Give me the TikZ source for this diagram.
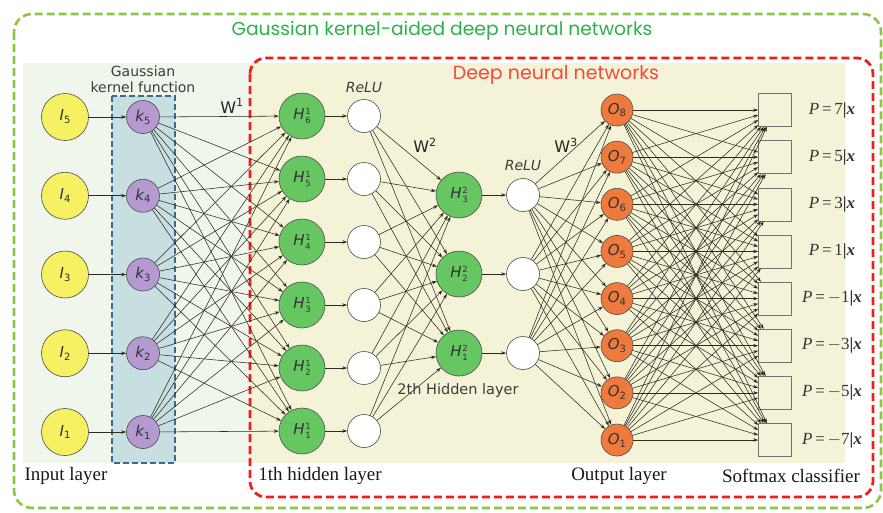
\documentclass[tikz,border=0pt]{standalone}
\usepackage{fontspec}
\setmainfont{Liberation Serif}
\setsansfont{DejaVu Sans}
\newfontfamily\headfont{Poppins}
\usetikzlibrary{arrows.meta}

\definecolor{inyellow}{HTML}{F6F063}
\definecolor{kerpurple}{HTML}{B59AD2}
\definecolor{hidgreen}{HTML}{66C662}
\definecolor{outorange}{HTML}{EF7A3D}
\definecolor{kerfill}{HTML}{C7DFE1}
\definecolor{kerline}{HTML}{3A6B8A}
\definecolor{panelgreen}{HTML}{F0F6EB}
\definecolor{panelbeige}{HTML}{F4F3D8}
\definecolor{framered}{HTML}{F21E1E}
\definecolor{framegreen}{HTML}{8DC63F}
\definecolor{headgreen}{HTML}{2DB24A}
\definecolor{headred}{HTML}{F4483A}
\definecolor{wire}{HTML}{2B2B1E}
\definecolor{labgray}{HTML}{3C3C3C}

% node label helpers: italic letter with subscript, or with stacked sup/sub
\newcommand{\nsub}[2]{{\itshape #1}\raisebox{-0.35ex}{\fontsize{10}{10}\selectfont #2}}
\newcommand{\nsupsub}[3]{{\itshape #1}\kern0.8pt\raisebox{-3.6pt}{\fontsize{8.5}{8.5}\selectfont\shortstack[l]{#2\\[-0.6pt]#3}}}
\newcommand{\plab}[1]{\textit{P}\,=\,#1\textbf{|}\textbf{\textit{x}}}

\begin{document}
\begin{tikzpicture}[x=1pt,y=-1pt,
  neuron/.style={circle,draw=black!70,line width=0.6pt,inner sep=0pt,
    font=\sffamily\fontsize{15}{15}\selectfont,text=black!80},
  inpnode/.style={neuron,fill=inyellow,minimum size=47pt},
  kernode/.style={neuron,fill=kerpurple,minimum size=33pt},
  hidnode/.style={neuron,fill=hidgreen,minimum size=46pt},
  relunode/.style={neuron,fill=white,minimum size=33pt},
  outnode/.style={neuron,fill=outorange,minimum size=32pt},
  smxbox/.style={rectangle,draw=black!55,line width=0.6pt,fill=panelbeige,minimum size=33pt,inner sep=0pt},
  conn/.style={draw=wire,line width=0.55pt,-{Stealth[length=5pt,width=3.4pt]}},
  layerlab/.style={font=\fontsize{19}{19}\selectfont,text=black!90},
  weightlab/.style={font=\sffamily\fontsize{16}{16}\selectfont,text=black!85},
  relulab/.style={font=\sffamily\itshape\fontsize{14}{14}\selectfont,text=labgray},
  plabel/.style={font=\fontsize{17}{17}\selectfont,text=black!80}
]
\useasboundingbox (0,0) rectangle (883,512);
\fill[white] (0,0) rectangle (883,512);

% panels
\fill[panelgreen] (23,63) rectangle (250,463);
\fill[panelbeige] (250,63) rectangle (845,463);

% frames
\draw[framegreen,line width=2.6pt,dash pattern=on 8pt off 4pt,rounded corners=18pt]
  (14,14) rectangle (881,508);
\draw[framered,line width=2.8pt,dash pattern=on 8pt off 4pt,rounded corners=16pt]
  (250,58) rectangle (873,497);
\draw[kerline,fill=kerfill,line width=1.4pt,dash pattern=on 6pt off 3pt]
  (112,96) rectangle (175,463);

% headings
\node (title) at (442,31) {\headfont\fontsize{18.7}{18.7}\selectfont\color{headgreen}Gaussian kernel-aided deep neural networks};
\node (dnn) at (556,75) {\headfont\fontsize{19}{19}\selectfont\color{headred}Deep neural networks};
\node[align=center,font=\sffamily\fontsize{14}{16}\selectfont,text=labgray] (gkf) at (143,79) {Gaussian\\kernel function};

% input and kernel layers
\foreach \i in {1,...,5} {
  \pgfmathsetmacro{\yy}{432-(\i-1)*78.75}
  \node[inpnode] (I\i) at (65,\yy) {\nsub{I}{\i}};
  \node[kernode] (k\i) at (143,\yy) {\nsub{k}{\i}};
}
% first hidden layer with ReLU units
\foreach \i in {1,...,6} {
  \pgfmathsetmacro{\yy}{431-(\i-1)*63}
  \node[hidnode] (h\i) at (302,\yy) {\nsupsub{H}{1}{\i}};
  \node[relunode] (r\i) at (364,\yy) {};
}
% second hidden layer with ReLU units
\foreach \i in {1,...,3} {
  \pgfmathsetmacro{\yy}{353-(\i-1)*79}
  \node[hidnode] (g\i) at (459,\yy) {\nsupsub{H}{2}{\i}};
  \node[relunode] (s\i) at (523,\yy) {};
}
% output layer, softmax boxes and class labels
\foreach \i/\v in {1/$-$7,2/$-$5,3/$-$3,4/$-$1,5/1,6/3,7/5,8/7} {
  \pgfmathsetmacro{\yy}{440-(\i-1)*47.14}
  \node[outnode] (o\i) at (617,\yy) {\nsub{O}{\i}};
  \node[smxbox] (b\i) at (775,\yy) {};
  \node[plabel] (p\i) at (832,\yy) {\plab{\v}};
}

% connections
\foreach \i in {1,...,5} {
  \draw[conn] (I\i) -- (k\i);
  \foreach \j in {1,...,6} \draw[conn] (k\i) -- (h\j);
}
\foreach \i in {1,...,6} {
  \draw[conn] (h\i) -- (r\i);
  \foreach \j in {1,...,3} \draw[conn] (r\i) -- (g\j);
}
\foreach \i in {1,...,3} {
  \draw[conn] (g\i) -- (s\i);
  \foreach \j in {1,...,8} \draw[conn] (s\i) -- (o\j);
}
\foreach \i in {1,...,8} {
  \foreach \j in {1,...,8} \draw[conn] (o\i) -- (b\j);
}

% labels
\node[weightlab] (w1) at (232,106) {W\textsuperscript{1}};
\node[weightlab] (w2) at (425,145) {W\textsuperscript{2}};
\node[weightlab] (w3) at (566,145) {W\textsuperscript{3}};
\node[relulab] (relu1) at (364,87) {ReLU};
\node[relulab] (relu2) at (523,165) {ReLU};
\node[font=\sffamily\fontsize{14.5}{14.5}\selectfont,text=labgray] (h2lab) at (458,390) {2th Hidden layer};
\node[layerlab] (inlab) at (66,476) {Input layer};
\node[layerlab] (h1lab) at (320,476) {1th hidden layer};
\node[layerlab] (outlab) at (619,476) {Output layer};
\node[layerlab] (smlab) at (791,476) {Softmax classifier};
\end{tikzpicture}
\end{document}
